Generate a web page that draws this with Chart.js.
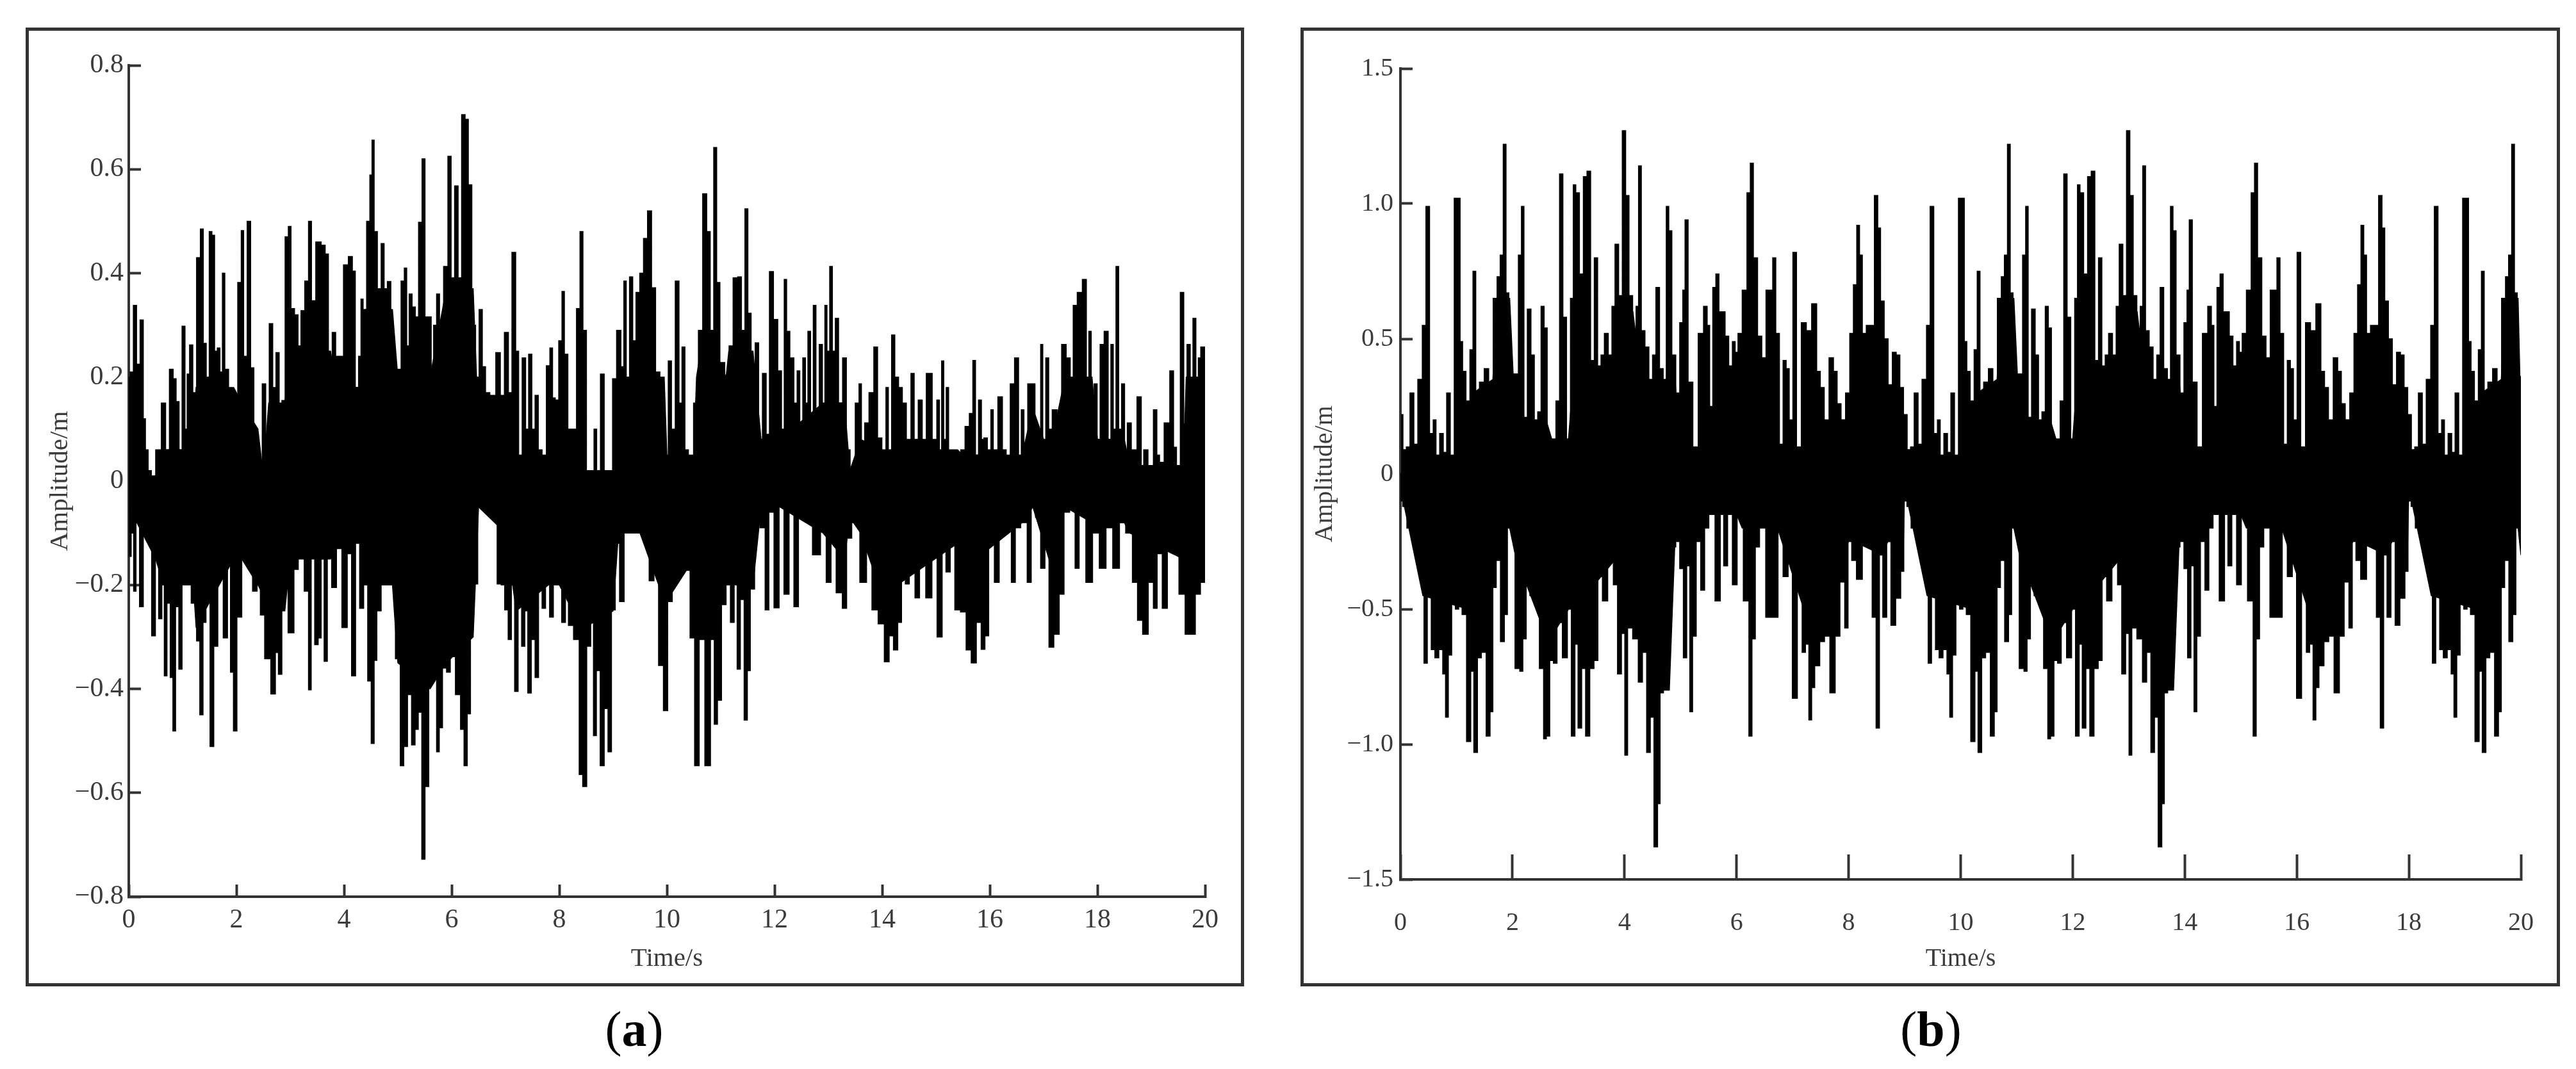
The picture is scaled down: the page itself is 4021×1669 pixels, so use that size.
<!DOCTYPE html>
<html>
<head>
<meta charset="utf-8">
<title>Amplitude</title>
<script src="https://cdn.jsdelivr.net/npm/chart.js@4"></script>
<style>
  body { margin: 0; background: #fff; width: 4021px; height: 1669px; position: relative; overflow: hidden; }
  .frame { position: absolute; top: 43px; height: 1487px; border: 5px solid #333; }
  .frame canvas { display: block; }
  .caption { position: absolute; top: 1562px; width: 200px; text-align: center; font: 78px "Liberation Serif", serif; color: #000; }
</style>
</head>
<body>
<div class="frame" style="left:40px;width:1892px"><canvas id="chartA" width="1892" height="1487"></canvas></div>
<div class="frame" style="left:2030px;width:1956px"><canvas id="chartB" width="1956" height="1487"></canvas></div>
<div class="caption" style="left:890px">(<b>a</b>)</div>
<div class="caption" style="left:2914px">(<b>b</b>)</div>
<script>
const xTicks = [0, 2, 4, 6, 8, 10, 12, 14, 16, 18, 20];
const xLabels = ["0", "2", "4", "6", "8", "10", "12", "14", "16", "18", "20"];
const yTicksA = [-0.8, -0.6, -0.4, -0.2, 0, 0.2, 0.4, 0.6, 0.8];
const yLabelsA = ["\u22120.8", "\u22120.6", "\u22120.4", "\u22120.2", "0", "0.2", "0.4", "0.6", "0.8"];
const yTicksB = [-1.5, -1, -0.5, 0, 0.5, 1, 1.5];
const yLabelsB = ["\u22121.5", "\u22121.0", "\u22120.5", "0", "0.5", "1.0", "1.5"];

// panel (a), upper and lower outline of the trace
const timeUpA = [0,.05,.12,.17,.25,.29,.33,.39,.45,.55,.66,.71,.8,.85,.91,.96,1.02,1.07,1.1,1.16,1.22,1.3,1.36,1.41,1.47,1.52,1.57,1.62,1.67,1.72,1.76,1.81,1.9,1.98,2.07,2.11,2.16,2.24,2.29,2.36,2.44,2.52,2.57,2.65,2.7,2.77,2.82,2.87,2.94,2.99,3.04,3.12,3.17,3.23,3.31,3.37,3.42,3.53,3.62,3.68,3.74,3.82,3.87,3.95,4.03,4.13,4.18,4.24,4.3,4.33,4.38,4.46,4.5,4.54,4.58,4.66,4.72,4.77,4.84,4.9,4.96,5.02,5.1,5.14,5.19,5.23,5.3,5.35,5.42,5.48,5.53,5.6,5.64,5.69,5.75,5.8,5.9,5.96,6.02,6.09,6.15,6.22,6.28,6.34,6.41,6.48,6.54,6.6,6.66,6.76,6.88,6.93,7.03,7.08,7.16,7.22,7.27,7.35,7.4,7.46,7.52,7.58,7.64,7.72,7.8,7.85,7.9,7.95,8.03,8.07,8.12,8.2,8.28,8.36,8.41,8.47,8.54,8.62,8.67,8.72,8.81,8.86,8.96,9.02,9.11,9.18,9.22,9.27,9.34,9.39,9.46,9.53,9.6,9.68,9.75,9.83,9.91,9.99,10.06,10.11,10.2,10.25,10.31,10.36,10.44,10.55,10.62,10.71,10.77,10.84,10.9,10.95,11.02,11.13,11.18,11.28,11.35,11.42,11.48,11.53,11.6,11.68,11.73,11.82,11.87,11.94,12.02,12.1,12.16,12.2,12.25,12.32,12.4,12.44,12.5,12.55,12.6,12.64,12.7,12.74,12.8,12.86,12.92,12.95,13,13.05,13.1,13.16,13.22,13.31,13.36,13.45,13.55,13.59,13.64,13.71,13.8,13.89,13.94,14.05,14.09,14.14,14.21,14.26,14.35,14.4,14.5,14.57,14.62,14.72,14.77,14.87,14.99,15.04,15.09,15.12,15.17,15.21,15.26,15.34,15.42,15.5,15.58,15.66,15.71,15.76,15.82,15.87,15.91,16,16.04,16.09,16.21,16.26,16.35,16.41,16.51,16.56,16.61,16.66,16.75,16.93,16.96,17.01,17.07,17.12,17.2,17.3,17.37,17.47,17.52,17.58,17.67,17.77,17.82,17.86,17.91,17.97,18.02,18.08,18.17,18.23,18.27,18.32,18.37,18.42,18.48,18.53,18.58,18.68,18.79,18.84,18.88,19,19.08,19.13,19.18,19.3,19.39,19.44,19.5,19.58,19.63,19.7,19.75,19.8,19.86,19.89,19.95,20];
const ampUpA = [.2,.21,.338,.225,.31,.12,.06,.02,.01,.06,.15,.06,.215,.197,.153,.06,.298,.1,.206,.262,.17,.43,.485,.265,.2,.48,.473,.25,.256,.21,.4,.215,.146,.08,.382,.482,.24,.5,.218,.06,.01,.187,.01,.303,.18,.247,.11,.155,.47,.49,.332,.32,.26,.328,.385,.5,.347,.46,.454,.437,.18,.286,.24,.24,.416,.432,.404,.18,.24,.35,.33,.5,.589,.656,.48,.37,.457,.37,.384,.16,.14,.215,.385,.41,.26,.36,.335,.316,.498,.62,.316,.316,.1,.3,.36,.18,.413,.625,.391,.568,.391,.705,.696,.57,.3,.2,.33,.22,.17,.165,.247,.165,.286,.17,.44,.25,.03,.237,.1,.244,.1,.165,.06,.01,.222,.256,.16,.156,.27,.365,.244,.1,.1,.332,.48,.29,.02,.01,.1,.01,.206,.01,.01,.197,.29,.22,.385,.2,.393,.27,.363,.4,.467,.52,.372,.21,.115,.01,.231,.1,.385,.15,.258,.06,.03,.15,.29,.553,.48,.29,.642,.382,.228,.13,.26,.391,.393,.29,.524,.323,.15,.266,.08,.207,.09,.403,.311,.212,.1,.388,.288,.237,.15,.212,.1,.237,.15,.288,.1,.338,.1,.263,.1,.338,.25,.413,.25,.313,.15,.237,.06,.01,.15,.187,.05,.112,.17,.258,.083,.05,.18,.02,.281,.2,.18,.15,.08,.207,.08,.156,.08,.207,.08,.156,.04,.231,.08,.18,.01,.055,.01,.06,.105,.13,.232,.05,.156,.08,.083,.06,.137,.06,.162,.06,.03,.187,.237,.02,.137,.05,.187,.02,.263,.08,.237,.1,.137,.06,.263,.237,.09,.338,.363,.388,.1,.288,.1,.187,.08,.263,.288,.08,.263,.1,.413,.1,.187,.06,.112,.06,.162,.03,.06,.03,.137,.05,.036,.112,.212,.065,.03,.363,.11,.263,.15,.313,.15,.237,.258,.258];
const timeDownA = [0,.02,.07,.11,.16,.24,.3,.38,.47,.52,.59,.64,.68,.74,.8,.84,.9,.96,1.02,1.12,1.2,1.24,1.28,1.36,1.4,1.47,1.55,1.61,1.7,1.81,1.86,1.92,1.97,2.05,2.15,2.25,2.35,2.42,2.47,2.58,2.7,2.75,2.81,2.88,3.04,3.1,3.2,3.32,3.36,3.42,3.49,3.55,3.6,3.66,3.72,3.82,3.9,4.02,4.1,4.18,4.25,4.33,4.4,4.48,4.53,4.59,4.63,4.75,4.9,5.01,5.08,5.14,5.22,5.29,5.35,5.41,5.48,5.53,5.62,5.69,5.75,5.79,5.87,5.94,6.01,6.13,6.2,6.26,6.32,6.38,6.45,6.52,6.6,6.7,6.8,6.89,6.95,7.02,7.08,7.14,7.2,7.27,7.33,7.39,7.44,7.52,7.58,7.65,7.71,7.78,7.86,7.92,8,8.09,8.14,8.2,8.33,8.41,8.46,8.56,8.61,8.66,8.72,8.8,8.87,8.94,9,9.08,9.16,9.25,9.35,9.5,9.62,9.72,9.8,9.89,9.98,10.05,10.15,10.25,10.32,10.39,10.47,10.56,10.64,10.77,10.85,10.91,10.97,11.06,11.14,11.22,11.28,11.33,11.4,11.47,11.52,11.58,11.68,11.78,11.87,11.92,12.06,12.11,12.24,12.3,12.42,12.47,12.6,12.81,12.9,13.02,13.08,13.21,13.31,13.37,13.5,13.67,13.75,13.87,13.98,14.1,14.16,14.26,14.32,14.4,14.46,14.55,14.67,14.72,14.9,14.95,15.09,15.14,15.23,15.3,15.4,15.51,15.61,15.7,15.8,15.88,15.94,16.02,16.15,16.2,16.35,16.45,16.5,16.65,16.74,16.8,16.9,16.99,17.06,17.14,17.24,17.34,17.42,17.55,17.62,17.7,17.87,17.95,18.12,18.2,18.37,18.45,18.6,18.7,18.79,18.89,19,19.08,19.14,19.27,19.33,19.45,19.58,19.68,19.77,19.87,19.96,20];
const ampDownA = [-.03,-.145,-.1,-.212,-.05,-.242,-.03,-.06,-.298,-.15,-.265,-.2,-.375,-.235,-.378,-.481,-.242,-.362,-.1,-.08,-.235,-.15,-.308,-.45,-.272,-.12,-.511,-.318,-.15,-.302,-.1,-.368,-.481,-.262,-.13,-.1,-.212,-.1,-.258,-.342,-.41,-.33,-.372,-.2,-.292,-.17,-.12,-.212,-.402,-.12,-.315,-.302,-.15,-.347,-.08,-.205,-.13,-.282,-.14,-.375,-.12,-.245,-.2,-.385,-.505,-.345,-.25,-.14,-.17,-.342,-.548,-.511,-.411,-.508,-.478,-.445,-.728,-.588,-.295,-.338,-.521,-.475,-.36,-.368,-.338,-.411,-.478,-.548,-.448,-.2,-.198,-.05,-.02,-.03,-.06,-.198,-.2,-.248,-.305,-.2,-.405,-.2,-.318,-.25,-.408,-.305,-.378,-.1,-.245,-.16,-.262,-.1,-.14,-.272,-.12,-.278,-.305,-.565,-.588,-.318,-.2,-.49,-.365,-.548,-.438,-.521,-.248,-.12,-.232,-.06,-.05,-.07,-.1,-.192,-.1,-.355,-.442,-.232,-.08,-.155,-.06,-.172,-.302,-.548,-.305,-.548,-.305,-.468,-.422,-.238,-.12,-.272,-.15,-.362,-.228,-.46,-.365,-.208,-.03,-.09,-.248,-.06,-.244,-.04,-.218,-.03,-.242,-.03,-.04,-.142,-.05,-.195,-.11,-.215,-.245,-.11,-.08,-.195,-.12,-.248,-.275,-.348,-.298,-.325,-.272,-.12,-.198,-.12,-.225,-.09,-.225,-.1,-.3,-.12,-.175,-.1,-.248,-.252,-.325,-.35,-.272,-.324,-.298,-.12,-.195,-.09,-.07,-.195,-.09,-.08,-.195,-.05,-.07,-.168,-.12,-.32,-.295,-.218,-.06,-.05,-.168,-.05,-.195,-.1,-.168,-.09,-.168,-.08,-.1,-.195,-.268,-.295,-.195,-.245,-.14,-.245,-.12,-.1,-.218,-.295,-.295,-.218,-.195,-.195];
// solid inner band of panel (a)
const timeBodyA = [0,.5,.65,1.2,1.25,1.95,2.1,2.4,2.5,2.6,2.9,3,3.75,3.85,4.3,4.4,4.9,5,5.6,5.9,6.4,6.5,7,7.2,7.8,8,8.4,8.5,9,9.1,9.5,9.95,10,10.5,10.55,10.7,11.1,11.15,11.6,11.75,12.1,12.9,13.3,13.4,13.6,14,15.4,15.5,16.6,16.8,17.1,17.4,17.9,18,18.5,18.6,19.6,19.65,20];
const bodyUpA = [0,.01,.06,.06,.18,.18,.15,.1,.01,.15,.15,.25,.25,.18,.18,.33,.33,.2,.2,.37,.37,.1,.03,.05,.05,.08,.08,.02,.02,.17,.2,.2,.05,.05,.2,.3,.2,.25,.25,.08,.08,.15,.15,.02,.08,.06,.06,.05,.05,.14,.05,.2,.2,.08,.08,.03,.03,.2,.2];
const bodyDownA = [-.05,-.15,-.2,-.2,-.28,-.15,-.15,-.2,-.22,-.25,-.25,-.15,-.15,-.1,-.12,-.2,-.2,-.35,-.4,-.35,-.3,-.05,-.1,-.25,-.2,-.2,-.28,-.28,-.25,-.1,-.1,-.23,-.23,-.15,-.28,-.28,-.2,-.2,-.2,-.05,-.05,-.1,-.15,-.07,-.1,-.22,-.12,-.17,-.08,-.05,-.15,-.05,-.08,-.08,-.08,-.1,-.15,-.15,-.15];

// panel (b), upper and lower outline of the trace
const timeUpB = [.01,.08,.13,.21,.27,.35,.43,.48,.56,.61,.66,.74,.79,.86,.92,1,1.04,1.09,1.13,1.21,1.27,1.32,1.37,1.45,1.54,1.61,1.7,1.75,1.81,1.86,1.91,1.96,2.07,2.14,2.18,2.23,2.3,2.36,2.42,2.48,2.54,2.59,2.65,2.74,2.81,2.87,2.93,3,3.07,3.1,3.16,3.23,3.3,3.36,3.43,3.49,3.55,3.61,3.67,3.75,3.8,3.86,3.93,3.99,4.05,4.11,4.18,4.23,4.27,4.33,4.4,4.47,4.53,4.59,4.66,4.72,4.77,4.81,4.88,4.95,5.02,5.06,5.1,5.17,5.27,5.36,5.46,5.49,5.55,5.6,5.66,5.71,5.77,5.82,5.9,5.95,6,6.05,6.15,6.22,6.27,6.33,6.42,6.48,6.57,6.62,6.67,6.73,6.8,6.86,6.91,6.97,7.04,7.1,7.21,7.28,7.4,7.46,7.53,7.6,7.7,7.76,7.83,7.9,7.99,8.05,8.12,8.17,8.22,8.27,8.36,8.42,8.5,8.54,8.6,8.67,8.74,8.82,8.88,8.95,
9.01,9.08,9.13,9.21,9.27,9.35,9.43,9.48,9.56,9.61,9.66,9.74,9.79,9.86,9.92,10,10.04,10.09,10.13,10.21,10.27,10.32,10.37,10.45,10.54,10.61,10.7,10.75,10.81,10.86,10.91,10.96,11.07,11.14,11.18,11.23,11.3,11.36,11.42,11.48,11.54,11.59,11.65,11.74,11.81,11.87,11.93,12,12.07,12.1,12.16,12.23,12.3,12.36,12.43,12.49,12.55,12.61,12.67,12.75,12.8,12.86,12.93,12.99,13.05,13.11,13.18,13.23,13.27,13.33,13.4,13.47,13.53,13.59,13.66,13.72,13.77,13.81,13.88,13.95,14.02,14.06,14.1,14.17,14.27,14.36,14.46,14.49,14.55,14.6,14.66,14.71,14.77,14.82,14.9,14.95,15,15.05,15.15,15.22,15.27,15.33,15.42,15.48,15.57,15.62,15.67,15.73,15.8,15.86,15.91,15.97,16.04,16.1,16.21,16.28,16.4,16.46,16.53,16.6,16.7,16.76,16.83,16.9,16.99,17.05,17.12,17.17,17.22,17.27,17.36,17.42,17.5,17.54,17.6,17.67,17.74,17.82,17.88,17.95,
18.01,18.08,18.13,18.21,18.27,18.35,18.43,18.48,18.56,18.61,18.66,18.74,18.79,18.86,18.92,19,19.04,19.09,19.13,19.21,19.27,19.32,19.37,19.45,19.54,19.61,19.7,19.75,19.81,19.86,19.91,19.96,20];
const ampUpB = [.22,.09,.1,.3,.11,.35,.55,.99,.15,.2,.05,.15,.08,.3,0,1.02,1.02,.49,.38,.27,.46,.75,.23,.34,.39,.33,.65,.73,.81,1.22,.67,.36,.37,.81,.99,.21,.61,.44,.18,.23,.62,.54,.13,.09,.27,1.11,.58,.08,.65,1.07,1.04,.74,1.1,1.12,.42,.8,.38,.44,.52,.44,.62,.85,.66,1.27,1.03,.66,0,.62,1.14,.53,.47,.27,.44,.69,.39,.03,.99,.9,.44,.3,.56,.68,.94,.34,.01,.52,.62,.55,.23,.69,.74,.6,.6,.51,.4,.49,.45,.52,.68,1.04,1.15,.8,.51,.43,.68,.68,.8,.52,.11,.42,.39,.2,.82,.1,.56,.53,.63,.38,.32,.15,.43,.38,.26,.2,.3,.52,.7,.92,.81,.52,.55,.55,1.03,.91,.64,.5,.33,.45,.44,.32,
.22,.09,.1,.3,.11,.35,.55,.99,.15,.2,.05,.15,.08,.3,0,1.02,1.02,.49,.38,.27,.46,.75,.23,.34,.39,.33,.65,.73,.81,1.22,.67,.36,.37,.81,.99,.21,.61,.44,.18,.23,.62,.54,.13,.09,.27,1.11,.58,.08,.65,1.07,1.04,.74,1.1,1.12,.42,.8,.38,.44,.52,.44,.62,.85,.66,1.27,1.03,.66,0,.62,1.14,.53,.47,.27,.44,.69,.39,.03,.99,.9,.44,.3,.56,.68,.94,.34,.01,.52,.62,.55,.23,.69,.74,.6,.6,.51,.4,.49,.45,.52,.68,1.04,1.15,.8,.51,.43,.68,.68,.8,.52,.11,.42,.39,.2,.82,.1,.56,.53,.63,.38,.32,.15,.43,.38,.26,.2,.3,.52,.7,.92,.81,.52,.55,.55,1.03,.91,.64,.5,.33,.45,.44,.32,
.22,.09,.1,.3,.11,.35,.55,.99,.15,.2,.05,.15,.08,.3,0,1.02,1.02,.49,.38,.27,.46,.75,.23,.34,.39,.33,.65,.73,.81,1.22,.67,.36,.36];
const timeDownB = [0,.08,.15,.22,.3,.39,.45,.51,.59,.64,.73,.78,.83,.88,.95,1.01,1.07,1.13,1.23,1.28,1.34,1.41,1.48,1.58,1.62,1.68,1.74,1.83,1.88,1.94,1.99,2.1,2.16,2.21,2.28,2.34,2.43,2.53,2.58,2.63,2.7,2.76,2.83,2.95,3.01,3.09,3.14,3.2,3.27,3.34,3.42,3.49,3.56,3.65,3.75,3.85,3.9,3.99,4.02,4.09,4.2,4.29,4.35,4.44,4.48,4.57,4.61,4.66,4.73,4.8,4.88,4.95,5.02,5.08,5.14,5.19,5.24,5.32,5.4,5.46,5.55,5.68,5.74,5.8,5.88,5.97,6.05,6.19,6.25,6.3,6.37,6.45,6.59,6.7,6.78,6.88,6.96,7.03,7.14,7.2,7.26,7.32,7.36,7.43,7.54,7.6,7.73,7.79,7.9,7.96,8.02,8.09,8.19,8.3,8.38,8.46,8.52,8.58,8.64,8.72,8.79,8.89,8.97,
9,9.08,9.15,9.22,9.3,9.39,9.45,9.51,9.59,9.64,9.73,9.78,9.83,9.88,9.95,10.01,10.07,10.13,10.23,10.28,10.34,10.41,10.48,10.58,10.62,10.68,10.74,10.83,10.88,10.94,10.99,11.1,11.16,11.21,11.28,11.34,11.43,11.53,11.58,11.63,11.7,11.76,11.83,11.95,12.01,12.09,12.14,12.2,12.27,12.34,12.42,12.49,12.56,12.65,12.75,12.85,12.9,12.99,13.02,13.09,13.2,13.29,13.35,13.44,13.48,13.57,13.61,13.66,13.73,13.8,13.88,13.95,14.02,14.08,14.14,14.19,14.24,14.32,14.4,14.46,14.55,14.68,14.74,14.8,14.88,14.97,15.05,15.19,15.25,15.3,15.37,15.45,15.59,15.7,15.78,15.88,15.96,16.03,16.14,16.2,16.26,16.32,16.36,16.43,16.54,16.6,16.73,16.79,16.9,16.96,17.02,17.09,17.19,17.3,17.38,17.46,17.52,17.58,17.64,17.72,17.79,17.89,17.97,
18,18.08,18.15,18.22,18.3,18.39,18.45,18.51,18.59,18.64,18.73,18.78,18.83,18.88,18.95,19.01,19.07,19.13,19.23,19.28,19.34,19.41,19.48,19.58,19.62,19.68,19.74,19.83,19.88,19.94,20];
const ampDownB = [-.1,-.12,-.2,-.1,-.18,-.34,-.7,-.43,-.65,-.68,-.65,-.74,-.9,-.67,-.4,-.5,-.2,-.52,-.99,-.73,-1.03,-.68,-.66,-.97,-.88,-.42,-.32,-.62,-.52,-.1,-.2,-.72,-.73,-.61,-.27,-.45,-.2,-.72,-.98,-.97,-.69,-.7,-.55,-.68,-.47,-.97,-.63,-.94,-.72,-.97,-.72,-.69,-.38,-.47,-.2,-.41,-.74,-.59,-1.04,-.57,-.61,-.77,-.66,-1.03,-.9,-1.38,-1.22,-.81,-.7,-.55,-.27,-.15,-.35,-.68,-.34,-.88,-.6,-.25,-.43,-.2,-.15,-.47,-.1,-.34,-.15,-.41,-.15,-.47,-.97,-.61,-.27,-.2,-.53,-.53,-.15,-.38,-.2,-.83,-.31,-.66,-.63,-.91,-.79,-.71,-.62,-.6,-.81,-.6,-.4,-.57,-.2,-.32,-.39,-.2,-.15,-.53,-.94,-.3,-.53,-.25,-.56,-.46,-.36,
-.1,-.12,-.2,-.1,-.18,-.34,-.7,-.43,-.65,-.68,-.65,-.74,-.9,-.67,-.4,-.5,-.2,-.52,-.99,-.73,-1.03,-.68,-.66,-.97,-.88,-.42,-.32,-.62,-.52,-.1,-.2,-.72,-.73,-.61,-.27,-.45,-.2,-.72,-.98,-.97,-.69,-.7,-.55,-.68,-.47,-.97,-.63,-.94,-.72,-.97,-.72,-.69,-.38,-.47,-.2,-.41,-.74,-.59,-1.04,-.57,-.61,-.77,-.66,-1.03,-.9,-1.38,-1.22,-.81,-.7,-.55,-.27,-.15,-.35,-.68,-.34,-.88,-.6,-.25,-.43,-.2,-.15,-.47,-.1,-.34,-.15,-.41,-.15,-.47,-.97,-.61,-.27,-.2,-.53,-.53,-.15,-.38,-.2,-.83,-.31,-.66,-.63,-.91,-.79,-.71,-.62,-.6,-.81,-.6,-.4,-.57,-.2,-.32,-.39,-.2,-.15,-.53,-.94,-.3,-.53,-.25,-.56,-.46,-.36,
-.1,-.12,-.2,-.1,-.18,-.34,-.7,-.43,-.65,-.68,-.65,-.74,-.9,-.67,-.4,-.5,-.2,-.52,-.99,-.73,-1.03,-.68,-.66,-.97,-.88,-.42,-.32,-.62,-.52,-.1,-.1];
// solid inner band of panel (b)
const timeBodyB = [0,.4,1.2,1.3,1.65,1.72,1.95,2.05,2.6,2.7,3,3.1,3.9,3.95,4.15,4.3,4.5,4.8,4.9,5,5.4,5.45,6,6.1,6.6,6.7,7.2,7.3,8,8.1,8.6,8.7,8.98,
9,9.4,10.2,10.3,10.65,10.72,10.95,11.05,11.6,11.7,12,12.1,12.9,12.95,13.15,13.3,13.5,13.8,13.9,14,14.4,14.45,15,15.1,15.6,15.7,16.2,16.3,17,17.1,17.6,17.7,17.98,
18,18.4,19.2,19.3,19.65,19.72,19.95,20];
const bodyUpB = [0,.07,.07,.3,.35,.65,.65,.2,.2,.13,.13,.4,.4,.6,.6,.35,.35,.35,.35,.1,.1,.25,.25,.38,.38,.1,.1,.2,.2,.4,.4,.13,.13,
0,.07,.07,.3,.35,.65,.65,.2,.2,.13,.13,.4,.4,.6,.6,.35,.35,.35,.35,.1,.1,.25,.25,.38,.38,.1,.1,.2,.2,.4,.4,.13,.13,
0,.07,.07,.3,.35,.65,.65,.2];
const bodyDownB = [-.05,-.45,-.5,-.55,-.4,-.2,-.2,-.3,-.6,-.6,-.5,-.5,-.3,-.4,-.45,-.45,-.8,-.8,-.25,-.25,-.15,-.15,-.15,-.2,-.18,-.18,-.5,-.55,-.25,-.25,-.3,-.25,-.25,
-.05,-.45,-.5,-.55,-.4,-.2,-.2,-.3,-.6,-.6,-.5,-.5,-.3,-.4,-.45,-.45,-.8,-.8,-.25,-.25,-.15,-.15,-.15,-.2,-.18,-.18,-.5,-.55,-.25,-.25,-.3,-.25,-.25,
-.05,-.45,-.5,-.55,-.4,-.2,-.2,-.3];

const textColor = "#3c3c3c";
const lineColor = "#333";

function trace(times, amps, stepped) {
  return {
    data: times.map((t, i) => ({ x: t, y: amps[i] })),
    stepped: stepped,
    fill: "origin",
    borderColor: "#000",
    backgroundColor: "#000",
    borderWidth: 1.5,
    pointRadius: 0,
  };
}

function drawPanel(id, p) {
  new Chart(document.getElementById(id), {
    type: "line",
    data: {
      datasets: [
        trace(p.timeUp, p.ampUp, "middle"),
        trace(p.timeDown, p.ampDown, "middle"),
        trace(p.timeBody, p.bodyUp, false),
        trace(p.timeBody, p.bodyDown, false),
      ],
    },
    options: {
      responsive: false,
      animation: false,
      layout: { padding: { top: p.padTop, right: p.padRight } },
      plugins: { legend: { display: false }, tooltip: { enabled: false } },
      scales: {
        x: {
          type: "linear",
          min: 0,
          max: 20,
          afterFit: (s) => { s.height = p.xHeight; s.paddingLeft = 0; s.paddingRight = 0; },
          afterBuildTicks: (s) => { s.ticks = xTicks.map((v) => ({ value: v })); },
          grid: { drawOnChartArea: false, tickLength: -p.xTickLen, tickWidth: 4, color: lineColor },
          border: { width: 4, color: lineColor },
          ticks: {
            autoSkip: false,
            maxRotation: 0,
            padding: p.xLabelGap + p.xTickLen,
            color: textColor,
            font: { family: "Liberation Serif", size: p.tickSize },
            callback: (v, i) => xLabels[i],
          },
          title: {
            display: true,
            text: "Time/s",
            color: textColor,
            font: { family: "Liberation Serif", size: p.titleSize },
            padding: { top: 0, bottom: p.xTitlePad },
          },
        },
        y: {
          min: p.yTicks[0],
          max: p.yTicks[p.yTicks.length - 1],
          afterFit: (s) => { s.width = p.yWidth; },
          afterBuildTicks: (s) => { s.ticks = p.yTicks.map((v) => ({ value: v })); },
          grid: { drawOnChartArea: false, tickLength: -19, tickWidth: 4, color: lineColor },
          border: { width: 4, color: lineColor },
          ticks: {
            autoSkip: false,
            padding: p.yLabelGap + 19,
            color: textColor,
            font: { family: "Liberation Serif", size: p.tickSize },
            callback: (v, i) => p.yLabels[i],
          },
          title: {
            display: true,
            text: "Amplitude/m",
            color: textColor,
            font: { family: "Liberation Serif", size: p.titleSize },
            padding: { top: p.yTitlePad, bottom: 0 },
          },
        },
      },
    },
  });
}

drawPanel("chartA", {
  timeUp: timeUpA, ampUp: ampUpA, timeDown: timeDownA, ampDown: ampDownA,
  timeBody: timeBodyA, bodyUp: bodyUpA, bodyDown: bodyDownA,
  yTicks: yTicksA, yLabels: yLabelsA,
  padTop: 54, padRight: 56, yWidth: 156, xHeight: 135,
  xTickLen: 19, xLabelGap: 12, yLabelGap: 8, tickSize: 42, titleSize: 41,
  xTitlePad: 13, yTitlePad: 25,
});

drawPanel("chartB", {
  timeUp: timeUpB, ampUp: ampUpB, timeDown: timeDownB, ampDown: ampDownB,
  timeBody: timeBodyB, bodyUp: bodyUpB, bodyDown: bodyDownB,
  yTicks: yTicksB, yLabels: yLabelsB,
  padTop: 59, padRight: 56, yWidth: 151, xHeight: 162,
  xTickLen: 39, xLabelGap: 44, yLabelGap: 11, tickSize: 40, titleSize: 40,
  xTitlePad: 14, yTitlePad: 9,
});
</script>
</body>
</html>
